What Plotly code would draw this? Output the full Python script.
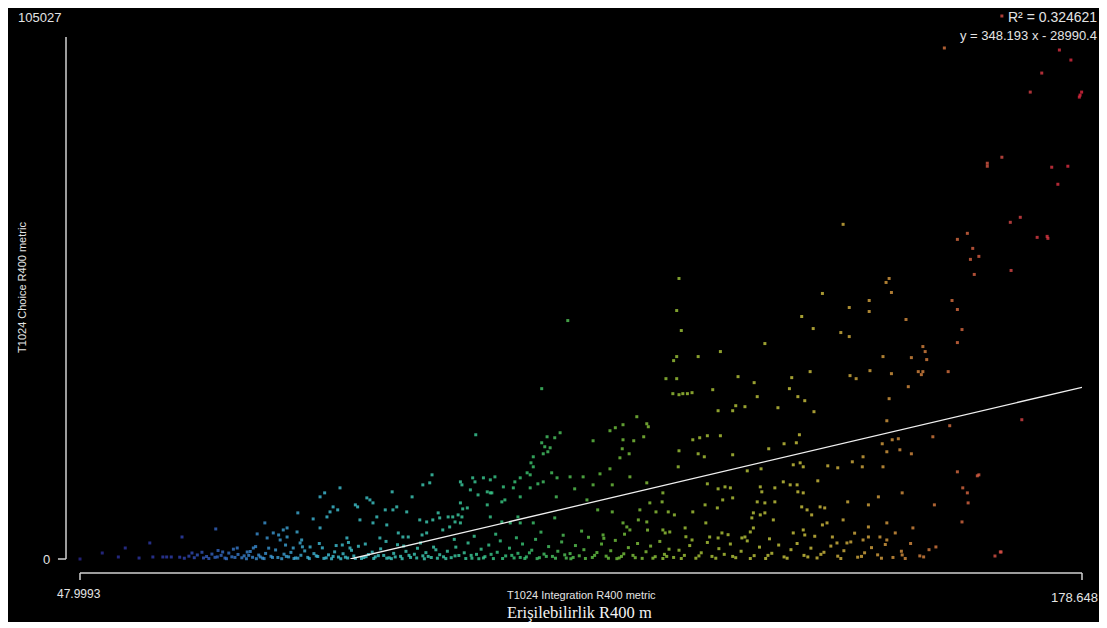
import plotly.graph_objects as go

# ---- axis extents and fit (as printed on the chart) ----
X_MIN, X_MAX = 47.9993, 178.648
Y_MIN, Y_MAX = 0, 105027
SLOPE, INTERCEPT = 348.193, -28990.4
R2 = 0.324621

X_TITLE = "T1024 Integration R400 metric"
Y_TITLE = "T1024 Choice R400 metric"
CAPTION = "Erişilebilirlik R400 m"

# ---- points: (integration, choice) ----
pts_left = [
    (48.0, 0), (50.9, 1160), (53.9, 2130), (53.0, 390), (55.7, 190), (57.1, 3100), (57.5, 390),
    (58.8, 390), (59.3, 390), (59.9, 390), (61.3, 4260), (62.6, 1160), (65.7, 5810), (66.6, 1360),
    (68.5, 2130), (69.8, 1360), (70.6, 2130), (71.1, 4850), (72.1, 6980), (72.4, 4070), (73.2, 5040),
    (73.9, 4650), (74.1, 3680), (74.5, 5620), (75.0, 6010), (75.0, 4260), (75.8, 2130), (76.4, 8920),
    (76.3, 5230), (76.7, 3100), (76.9, 3680), (78.0, 2330), (78.4, 7750), (79.3, 12020), (79.3, 6010),
    (79.9, 12790), (80.2, 8140), (80.6, 9110), (81.0, 10080), (81.6, 9500), (81.9, 13760), (82.2, 2710),
    (82.8, 4070), (83.2, 2130), (83.9, 10470), (84.2, 10080), (84.5, 7560), (85.4, 11820), (85.8, 11430),
    (86.2, 10850), (86.2, 6980), (86.7, 8140), (87.1, 4070), (87.8, 9500), (88.0, 6590), (88.7, 12990),
    (88.8, 9500), (89.3, 10080), (89.5, 5040), (90.1, 4260), (90.6, 9110), (90.8, 4260), (91.3, 12020),
    (92.3, 7560), (92.7, 14340), (93.6, 14730), (93.9, 16280), (93.2, 7170), (94.0, 7560), (93.2, 5040),
    (92.6, 4650),
]

pts_mid = [
    (111.6, 46120), (108.2, 32950), (99.6, 24030), (110.6, 24420), (108.9, 23640), (109.9, 23450),
    (108.2, 22480), (108.6, 21710), (109.3, 21510), (109.0, 20740), (108.4, 20350), (114.9, 22870),
    (118.8, 23060), (120.2, 22870), (121.5, 23640), (120.6, 27520), (121.9, 26160), (122.1, 25580),
    (118.8, 25970), (117.8, 25390), (117.1, 24810), (118.7, 21320), (119.6, 20350), (118.4, 19570),
    (107.1, 19770), (106.8, 18600), (107.1, 17830), (115.8, 16470), (117.1, 17440), (119.7, 15890),
    (113.6, 15890), (111.9, 15890), (110.2, 15700), (109.5, 16670), (106.3, 16670), (106.7, 16280),
    (105.4, 15700), (104.7, 14920), (104.5, 13760), (106.7, 13760), (107.7, 14540), (108.4, 14920),
    (114.9, 14340), (112.5, 13570), (117.4, 14340), (121.9, 14730), (97.6, 14920), (97.8, 14340),
    (99.2, 15700), (99.5, 14920), (100.6, 15700), (101.5, 15310), (102.1, 15890), (101.1, 12990),
    (101.5, 12790), (98.9, 13370), (99.9, 12400), (103.4, 11430), (103.0, 11050), (105.4, 12020),
    (110.1, 12020), (97.6, 10850), (101.1, 10470), (97.9, 9690), (98.5, 9880), (94.7, 8920),
    (94.9, 7950), (96.0, 8140), (96.6, 8140), (97.3, 8530), (97.8, 8140), (96.9, 7170), (97.6, 6980),
    (96.2, 6200), (101.7, 12790), (103.2, 13950), (95.3, 5620), (101.5, 8140), (103.0, 7170),
    (104.1, 6980), (105.1, 8140), (105.4, 6980), (107.1, 6980), (109.9, 7950), (114.1, 11430),
    (115.5, 9500), (117.4, 9110), (118.8, 6980), (119.3, 6200), (119.7, 5620), (116.2, 4650),
    (121.0, 9500), (122.3, 10850), (120.8, 7560), (121.9, 7170),
]

pts_right = [
    (147.5, 64730), (163.7, 62990), (162.4, 61820), (164.1, 57950), (126.1, 54260), (153.5, 54260),
    (153.1, 53490), (153.8, 51550), (144.8, 51360), (150.9, 50000), (150.9, 47870), (161.7, 50000),
    (162.4, 48260), (148.3, 48640), (125.8, 48060), (126.4, 44190), (142.1, 46900), (143.6, 44570),
    (147.2, 43800), (148.3, 43020), (155.7, 46320), (163.0, 44380), (162.4, 41860), (137.3, 41670),
    (131.5, 40120), (128.6, 39150), (125.8, 39150), (125.4, 38370), (152.7, 39150), (156.4, 38950),
    (157.9, 41090), (158.2, 40120), (158.4, 38570), (157.3, 36240), (157.9, 36240), (157.7, 35660),
    (161.2, 36240), (151.0, 36430), (153.8, 35850), (143.2, 36240), (148.4, 35470), (149.2, 34880),
    (133.8, 35270), (135.9, 34110), (140.8, 35080), (124.4, 34880), (125.8, 34880), (156.0, 33330),
    (130.5, 32750), (140.5, 32950), (136.3, 31400), (141.6, 31400), (142.5, 30620), (125.3, 31980),
    (126.1, 31780), (126.6, 31980), (127.2, 31980), (127.8, 32170), (153.5, 31010), (131.2, 28680),
    (133.1, 28680), (133.5, 29650), (134.7, 29460), (139.0, 29260), (143.7, 28490), (153.2, 26740),
    (161.4, 25780), (127.9, 23060), (128.8, 23450), (129.8, 23840), (131.5, 23840), (141.8, 24030),
    (141.4, 22480), (139.8, 22290), (137.8, 21320), (126.1, 20930), (128.6, 20350), (129.4, 19770),
    (133.1, 20160), (126.0, 17830), (152.6, 22290), (153.9, 23060), (154.7, 23260), (154.9, 21120),
    (153.2, 20740), (156.4, 20350), (159.2, 23640), (136.8, 17440), (135.0, 17050), (141.0, 18220),
    (141.9, 18600), (142.3, 17830), (145.5, 18020), (146.8, 17640), (148.7, 18800), (150.1, 19770),
    (150.0, 17830), (152.7, 17830), (162.4, 16860), (144.2, 15120), (139.7, 14920), (140.6, 14340),
    (141.5, 14340), (136.7, 13950), (136.9, 12990), (129.8, 14540), (131.2, 13570), (132.1, 13950),
    (132.8, 13760), (138.6, 13760), (124.0, 12790), (123.9, 11050), (131.8, 11430), (133.1, 11820),
    (136.3, 11050), (137.3, 10850), (138.6, 11050), (141.6, 12990), (142.3, 12790), (148.1, 11050),
    (152.1, 12020), (155.2, 12790), (163.1, 13760), (163.7, 12790), (163.8, 10850), (159.4, 10470),
    (150.8, 10470), (123.1, 9110), (124.7, 9110), (125.5, 8530), (127.9, 9110), (129.5, 10470),
    (131.1, 9880), (135.8, 8920), (136.7, 8530), (137.3, 8920), (135.6, 7950), (142.1, 10080),
    (142.8, 9500), (143.4, 8530), (144.5, 10080), (145.1, 9880), (144.8, 6590), (145.4, 6980),
    (147.5, 7560), (150.8, 6200), (153.2, 6980), (156.6, 6010), (163.0, 7170), (154.3, 5040),
    (159.6, 2330), (124.0, 5620), (124.3, 5040), (124.9, 5230), (126.9, 6010), (127.8, 3680),
    (129.6, 6980), (130.1, 4260), (131.2, 4070), (131.7, 5040), (134.3, 4070), (134.7, 4260),
    (135.4, 5230), (135.8, 6010), (138.4, 7560), (141.0, 5040), (142.3, 5620), (142.5, 4650),
    (146.1, 4260), (146.7, 3100), (148.0, 3100), (150.1, 3680), (150.8, 4260), (152.3, 4260),
    (153.2, 3680),
]

pts_top = [
    (175.5, 72480), (169.3, 65120), (170.6, 66090), (172.8, 62210), (174.1, 62400), (174.2, 62020),
    (164.4, 60080), (165.2, 58530), (164.6, 55040), (169.4, 55810), (170.8, 26940), (165.0, 16090),
    (165.2, 16280), (167.3, 580), (168.0, 1360), (168.1, 1360), (155.2, 780), (160.7, 98840),
    (175.7, 98450), (177.2, 96510), (173.4, 93990), (171.9, 90310), (178.6, 90310), (178.3, 89340),
    (178.4, 89730), (168.2, 77710), (166.3, 76550), (166.3, 75970), (174.7, 75780), (176.8, 75970),
    (168.2, 105027),
]

band_blue = [
    (61.0, 350), (61.6, 150), (62.2, 550), (62.9, 250), (63.3, 780), (64.1, 200), (64.5, 480),
    (65.2, 950), (65.6, 320), (66.4, 700), (66.9, 180), (67.4, 1150), (67.8, 420), (68.6, 880),
    (69.1, 230), (69.4, 610), (70.2, 1450), (70.5, 330), (71.3, 760), (71.8, 170), (72.2, 1080),
    (72.9, 520), (73.5, 1750), (73.8, 290), (74.6, 930), (75.2, 410), (75.5, 1280), (76.1, 200),
    (76.8, 720), (77.3, 1560), (77.7, 310), (78.5, 1040), (79.0, 480), (79.6, 2150), (80.1, 220),
    (80.4, 800), (81.2, 1380), (81.7, 380), (82.3, 1020), (82.9, 190), (83.4, 1680), (83.7, 590),
    (84.3, 2460), (85.0, 280), (85.6, 870), (86.1, 1330), (86.5, 410), (87.2, 1960), (87.6, 690),
    (88.3, 230), (88.9, 1090), (89.4, 2760), (89.8, 510), (90.5, 1480), (91.1, 300), (91.6, 920),
    (92.0, 2080), (92.7, 610), (93.1, 1230), (93.8, 290), (94.4, 1780), (94.9, 830), (63.9, 1300),
    (66.0, 1650), (68.0, 1900), (70.9, 2400), (72.6, 2100), (74.8, 2700), (77.0, 2350), (79.2, 3000),
    (81.4, 2600), (83.0, 3200), (85.2, 2900), (87.9, 3400), (90.2, 2500), (92.4, 3100), (94.1, 2300),
    (71.0, 60), (75.9, 90), (80.8, 50), (84.7, 100), (88.6, 70), (92.9, 40),
    (64.8, 90), (65.9, 400), (67.1, 60), (68.2, 300), (69.7, 50), (70.0, 700), (71.5, 400), (72.0, 80),
    (73.1, 300), (74.3, 60), (74.9, 500), (76.4, 150), (77.9, 80), (78.8, 600), (79.8, 120), (81.0, 500),
    (82.0, 50), (82.6, 350), (83.9, 120), (85.3, 450), (86.3, 90), (86.9, 650), (88.0, 150), (89.1, 400),
    (90.0, 60), (90.9, 700), (91.9, 200), (93.4, 500), (94.6, 150),
]

band_green = [
    (95.4, 420), (95.9, 1500), (96.4, 260), (97.0, 2300), (97.4, 680), (98.1, 1200), (98.6, 3100),
    (99.1, 150), (99.7, 900), (100.3, 1900), (100.8, 450), (101.3, 2700), (101.9, 80), (102.4, 1300),
    (102.8, 3500), (103.5, 600), (104.0, 2100), (104.6, 200), (105.1, 1100), (105.7, 2900), (106.2, 400),
    (106.9, 1700), (107.4, 3800), (107.9, 250), (108.5, 950), (109.1, 2400), (109.6, 500), (110.3, 1500),
    (110.8, 3300), (111.4, 180), (111.9, 1050), (112.6, 2600), (113.1, 620), (113.7, 1800), (114.3, 4200),
    (114.8, 300), (115.4, 1250), (116.0, 2900), (116.6, 550), (117.2, 1600), (117.8, 3600), (118.3, 200),
    (118.9, 1000), (119.5, 2200), (120.1, 700), (120.7, 3000), (121.3, 120), (121.8, 1400), (122.4, 2500),
    (123.0, 450), (123.6, 3400), (124.2, 900), (124.8, 1900), (96.8, 3800), (99.4, 4400), (102.2, 4800),
    (104.9, 4100), (108.1, 5200), (111.0, 4600), (113.4, 5400), (116.3, 4000), (119.0, 4800),
    (122.0, 5600), (100.0, 60), (106.0, 90), (112.0, 50), (118.0, 70), (124.0, 100),
    (95.7, 80), (96.9, 600), (98.3, 90), (99.0, 700), (100.6, 200), (101.6, 900), (103.1, 100),
    (104.3, 700), (105.4, 300), (106.6, 1200), (107.6, 80), (108.8, 500), (110.0, 150), (111.2, 800),
    (112.3, 300), (113.9, 100), (115.1, 700), (116.9, 150), (118.6, 500), (120.4, 250), (122.7, 150),
    (124.5, 500),
]

band_yellow = [
    (125.4, 300), (126.1, 1700), (126.8, 700), (127.5, 2600), (128.3, 150), (129.0, 1200), (129.8, 3200),
    (130.4, 500), (131.3, 2000), (132.0, 900), (132.8, 2900), (133.5, 250), (134.2, 1500), (135.0, 3500),
    (135.9, 650), (136.6, 2300), (137.4, 100), (138.2, 1100), (139.1, 2700), (139.8, 400), (140.7, 1800),
    (141.5, 3000), (142.4, 700), (143.3, 2100), (144.1, 200), (145.0, 1300), (145.9, 2500), (146.8, 550),
    (147.6, 1600), (148.5, 3300), (149.4, 350), (150.3, 1200), (151.2, 2200), (152.0, 800), (153.0, 2800),
    (154.0, 300), (155.1, 1500), (156.3, 3000), (157.5, 600), (158.7, 1800), (127.0, 4300), (132.5, 4700),
    (137.9, 3900), (143.8, 4400), (149.0, 5000),
    (126.4, 100), (128.7, 600), (130.9, 150), (133.1, 500), (135.4, 100), (137.7, 700), (140.2, 150),
    (142.9, 400), (144.6, 900), (147.2, 100), (149.9, 500), (152.5, 150), (155.6, 100), (158.0, 400),
]

all_pts = pts_left + pts_mid + pts_right + pts_top + band_blue + band_green + band_yellow
xs = [p[0] for p in all_pts]
ys = [p[1] for p in all_pts]

COLORSCALE = [
    [0.0, "#2a2890"], [0.10, "#3040b0"], [0.17, "#3a88d0"], [0.245, "#40c0d8"],
    [0.36, "#3ed0b0"], [0.44, "#38c878"], [0.52, "#68c440"], [0.61, "#a8c838"],
    [0.72, "#d0c840"], [0.80, "#d8a040"], [0.87, "#d87040"], [0.93, "#d84848"],
    [1.0, "#e02840"],
]

fig = go.Figure()
fig.add_trace(go.Scatter(
    x=xs, y=ys, mode="markers", cliponaxis=False, hoverinfo="skip",
    marker=dict(symbol="square", size=3, color=xs, cmin=X_MIN, cmax=X_MAX,
                colorscale=COLORSCALE, opacity=0.8, line=dict(width=0)),
))

# regression line y = SLOPE*x + INTERCEPT, drawn from where it meets y=0 to the x maximum
x_start = -INTERCEPT / SLOPE
fig.add_trace(go.Scatter(
    x=[x_start, X_MAX], y=[SLOPE * x_start + INTERCEPT, SLOPE * X_MAX + INTERCEPT],
    mode="lines", line=dict(color="#f0f0f0", width=1.3), cliponaxis=False, hoverinfo="skip",
))

AX = "#d0d0d0"
TXT = "#e4e4e4"
SANS = "Arial, Liberation Sans, sans-serif"

shapes = [
    # black canvas
    dict(type="rect", xref="paper", yref="paper", x0=-0.0749, x1=1.0210, y0=-0.116, y1=1.0239,
         fillcolor="black", line=dict(width=0), layer="below"),
    # y axis line with bottom tick
    dict(type="line", xref="paper", yref="paper", x0=-0.01397, x1=-0.01397, y0=0, y1=0.9613,
         line=dict(color=AX, width=1.5)),
    dict(type="line", xref="paper", yref="paper", x0=-0.0220, x1=-0.01397, y0=0, y1=0,
         line=dict(color=AX, width=1.5)),
    # x axis line with end ticks
    dict(type="line", xref="paper", yref="paper", x0=0, x1=1, y0=-0.02578, y1=-0.02578,
         line=dict(color=AX, width=1.5)),
    dict(type="line", xref="paper", yref="paper", x0=0, x1=0, y0=-0.02578, y1=-0.0387,
         line=dict(color=AX, width=1.5)),
    dict(type="line", xref="paper", yref="paper", x0=1, x1=1, y0=-0.02578, y1=-0.0387,
         line=dict(color=AX, width=1.5)),
]

def ann(text, x, y, xa="center", ya="middle", size=13, family=SANS, color=TXT, angle=0):
    return dict(text=text, x=x, y=y, xref="paper", yref="paper", xanchor=xa, yanchor=ya,
                showarrow=False, textangle=angle, font=dict(size=size, family=family, color=color))

annotations = [
    ann(f"{Y_MAX}", -0.017, 0.998, xa="right", size=13),
    ann(f"{Y_MIN}", -0.0279, 0.0, xa="right", size=13),
    ann(f"{X_MIN}", -0.001, -0.0645, size=12),
    ann(f"{X_MAX}", 0.993, -0.070, size=13),
    ann(X_TITLE, 0.5, -0.0663, size=11),
    ann(CAPTION, 0.499, -0.0985, size=16.5, family="Liberation Serif, Times New Roman, serif",
        color="#f4f4f4"),
    ann(Y_TITLE, -0.0579, 0.501, size=11, angle=-90),
    ann(f"R² = {R2}", 1.017, 0.998, xa="right", size=14),
    ann(f"y = {SLOPE} x - {abs(INTERCEPT)}", 1.017, 0.965, xa="right", size=13),
]

# the page adds an 8px body margin, so the figure is 8px smaller and shifted accordingly
fig.update_layout(
    width=1099, height=620,
    margin=dict(l=72, r=25, t=8, b=69, pad=0),
    paper_bgcolor="white", plot_bgcolor="rgba(0,0,0,0)",
    showlegend=False,
    xaxis=dict(range=[X_MIN, X_MAX], visible=False, fixedrange=True),
    yaxis=dict(range=[Y_MIN, Y_MAX], visible=False, fixedrange=True),
    shapes=shapes, annotations=annotations,
)

fig.write_html("out.html")
